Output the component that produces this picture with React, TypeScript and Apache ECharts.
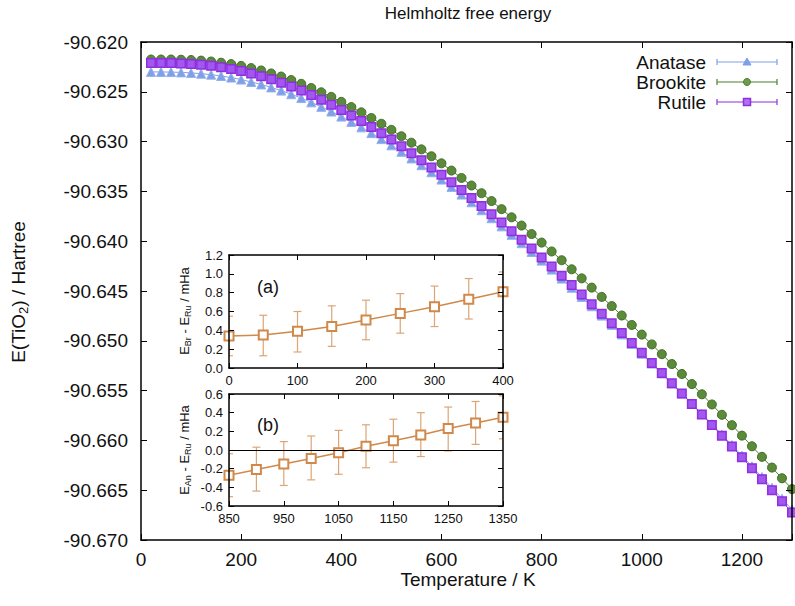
import { useEffect, useRef } from 'react';
import * as echarts from 'echarts';

// ---------- data ----------
const temperatures = [
  20, 40, 60, 80, 100, 120, 140, 160, 180, 200,
  220, 240, 260, 280, 300, 320, 340, 360, 380, 400,
  420, 440, 460, 480, 500, 520, 540, 560, 580, 600,
  620, 640, 660, 680, 700, 720, 740, 760, 780, 800,
  820, 840, 860, 880, 900, 920, 940, 960, 980, 1000,
  1020, 1040, 1060, 1080, 1100, 1120, 1140, 1160, 1180, 1200,
  1220, 1240, 1260, 1280, 1300,
];

const anatase = [
  -90.62300, -90.62301, -90.62302, -90.62305, -90.62310, -90.62318, -90.62328, -90.62341, -90.62357, -90.62377,
  -90.62401, -90.62426, -90.62456, -90.62488, -90.62524, -90.62563, -90.62606, -90.62651, -90.62698, -90.62749,
  -90.62802, -90.62857, -90.62915, -90.62975, -90.63037, -90.63102, -90.63169, -90.63237, -90.63308, -90.63381,
  -90.63455, -90.63532, -90.63609, -90.63689, -90.63769, -90.63851, -90.63936, -90.64020, -90.64108, -90.64195,
  -90.64285, -90.64375, -90.64467, -90.64559, -90.64653, -90.64747, -90.64840, -90.64936, -90.65032, -90.65130,
  -90.65229, -90.65328, -90.65428, -90.65529, -90.65630, -90.65734, -90.65837, -90.65942, -90.66047, -90.66153,
  -90.66260, -90.66368, -90.66476, -90.66585, -90.66694,
];

const brookite = [
  -90.62176, -90.62176, -90.62176, -90.62178, -90.62181, -90.62187, -90.62196, -90.62208, -90.62222, -90.62240,
  -90.62262, -90.62286, -90.62316, -90.62347, -90.62382, -90.62420, -90.62462, -90.62505, -90.62551, -90.62601,
  -90.62653, -90.62706, -90.62763, -90.62821, -90.62882, -90.62946, -90.63011, -90.63078, -90.63147, -90.63218,
  -90.63291, -90.63365, -90.63441, -90.63518, -90.63597, -90.63678, -90.63760, -90.63843, -90.63928, -90.64014,
  -90.64103, -90.64191, -90.64282, -90.64373, -90.64466, -90.64559, -90.64651, -90.64746, -90.64841, -90.64938,
  -90.65036, -90.65134, -90.65233, -90.65333, -90.65434, -90.65537, -90.65639, -90.65743, -90.65847, -90.65952,
  -90.66059, -90.66165, -90.66273, -90.66380, -90.66489,
];

const rutile = [
  -90.62210, -90.62211, -90.62212, -90.62215, -90.62220, -90.62228, -90.62239, -90.62253, -90.62270, -90.62291,
  -90.62316, -90.62343, -90.62375, -90.62409, -90.62447, -90.62488, -90.62533, -90.62580, -90.62629, -90.62682,
  -90.62737, -90.62794, -90.62854, -90.62916, -90.62980, -90.63047, -90.63116, -90.63186, -90.63259, -90.63333,
  -90.63409, -90.63487, -90.63566, -90.63647, -90.63729, -90.63813, -90.63899, -90.63985, -90.64074, -90.64163,
  -90.64255, -90.64347, -90.64441, -90.64536, -90.64632, -90.64728, -90.64824, -90.64922, -90.65021, -90.65121,
  -90.65222, -90.65324, -90.65426, -90.65530, -90.65634, -90.65740, -90.65846, -90.65953, -90.66061, -90.66169,
  -90.66279, -90.66389, -90.66500, -90.66611, -90.66723,
];

const seriesNames = ['Anatase', 'Brookite', 'Rutile'];

// inset (a): E_Br - E_Ru
const insetATemps = [0, 50, 100, 150, 200, 250, 300, 350, 400];
const insetAValues = [0.34, 0.35, 0.39, 0.44, 0.51, 0.58, 0.65, 0.73, 0.81];
const insetALow = [0.13, 0.13, 0.17, 0.23, 0.30, 0.37, 0.44, 0.52, 0.60];
const insetAHigh = [0.55, 0.56, 0.60, 0.66, 0.72, 0.79, 0.87, 0.95, 1.02];

// inset (b): E_An - E_Ru
const insetBTemps = [850, 900, 950, 1000, 1050, 1100, 1150, 1200, 1250, 1300, 1350];
const insetBValues = [-0.27, -0.21, -0.15, -0.09, -0.03, 0.04, 0.10, 0.16, 0.23, 0.29, 0.35];
const insetBLow = [-0.50, -0.44, -0.38, -0.32, -0.26, -0.19, -0.13, -0.07, -0.01, 0.06, 0.12];
const insetBHigh = [-0.04, 0.03, 0.09, 0.15, 0.21, 0.27, 0.33, 0.40, 0.46, 0.52, 0.58];

// ---------- styling ----------
const FONT = '"Liberation Sans", Arial, Helvetica, sans-serif';
const C_AN = '#7f9fe6';
const C_BR = '#4f7f2f';
const C_RU = '#8e2fe0';
const C_IN = '#d0894a';
const C_ERR = '#dba577';

function pairs(xs: number[], ys: number[]) {
  return xs.map((x, i) => [x, ys[i]]);
}
function triples(xs: number[], lo: number[], hi: number[]) {
  return xs.map((x, i) => [x, lo[i], hi[i]]);
}

function errorBars(xIdx: number, yIdx: number, data: number[][], color: string) {
  return {
    type: 'custom',
    xAxisIndex: xIdx,
    yAxisIndex: yIdx,
    data,
    clip: true,
    z: 1,
    encode: { x: 0, y: [1, 2] },
    silent: true,
    renderItem: (_p: any, api: any) => {
      const x = api.value(0);
      const lo = api.coord([x, api.value(1)]);
      const hi = api.coord([x, api.value(2)]);
      const w = 4;
      const style = { stroke: color, lineWidth: 1.2 };
      return {
        type: 'group',
        children: [
          { type: 'line', shape: { x1: lo[0], y1: lo[1], x2: hi[0], y2: hi[1] }, style },
          { type: 'line', shape: { x1: lo[0] - w, y1: lo[1], x2: lo[0] + w, y2: lo[1] }, style },
          { type: 'line', shape: { x1: hi[0] - w, y1: hi[1], x2: hi[0] + w, y2: hi[1] }, style },
        ],
      };
    },
  };
}

function axis(opts: any) {
  const { show, fontSize, margin, formatter, lineWidth, tickLen, ...rest } = opts;
  return {
    type: 'value',
    z: 5,
    axisLine: { show: true, onZero: false, lineStyle: { color: '#000', width: lineWidth } },
    axisTick: { show: true, inside: true, length: tickLen, lineStyle: { color: '#000', width: 1 } },
    axisLabel: {
      show,
      fontSize,
      margin,
      color: '#111',
      fontFamily: FONT,
      formatter,
    },
    splitLine: { show: false },
    ...rest,
  };
}

export default function App() {
  const ref = useRef<HTMLDivElement>(null);

  useEffect(() => {
    if (!ref.current) return;
    const chart = echarts.init(ref.current, undefined, { renderer: 'svg' });

    const mainX = (v: number) => (v > 1250 ? '' : String(v));
    const mainY = (v: number) => v.toFixed(3);
    const oneDec = (v: number) => (Math.abs(v) < 1e-9 ? '0.0' : v.toFixed(1));
    const intLbl = (v: number) => String(Math.round(v));

    const legendRows = seriesNames.map((name, i) => {
      const y = 62 + i * 20;
      const color = [C_AN, C_BR, C_RU][i];
      const marker =
        i === 0
          ? { type: 'polygon', shape: { points: [[747, y - 4], [743, y + 3], [751, y + 3]] }, style: { fill: color, stroke: color } }
          : i === 1
          ? { type: 'circle', shape: { cx: 747, cy: y, r: 3.5 }, style: { fill: '#6f9a50', stroke: C_BR, lineWidth: 1 } }
          : { type: 'rect', shape: { x: 743.5, y: y - 3.5, width: 7, height: 7 }, style: { fill: '#b070f0', stroke: C_RU, lineWidth: 1.5 } };
      return [
        { type: 'text', x: 706, y, style: { text: name, fontSize: 19, fontFamily: FONT, fill: '#111', align: 'right', verticalAlign: 'middle' } },
        { type: 'line', shape: { x1: 717, y1: y, x2: 777, y2: y }, style: { stroke: color, lineWidth: 1.2 } },
        { type: 'line', shape: { x1: 717, y1: y - 3, x2: 717, y2: y + 3 }, style: { stroke: color, lineWidth: 1.2 } },
        { type: 'line', shape: { x1: 777, y1: y - 3, x2: 777, y2: y + 3 }, style: { stroke: color, lineWidth: 1.2 } },
        marker,
      ];
    }).flat();

    const option: any = {
      animation: false,
      backgroundColor: '#fff',
      textStyle: { fontFamily: FONT },
      grid: [
        { left: 141, top: 42, width: 658, height: 498, show: false },
        { left: 229, top: 255, width: 274, height: 113, show: true, backgroundColor: '#fff', borderWidth: 0 },
        { left: 229, top: 394, width: 274, height: 112, show: true, backgroundColor: '#fff', borderWidth: 0 },
      ],
      xAxis: [
        axis({ gridIndex: 0, min: 0, max: 1300, interval: 200, show: true, fontSize: 19, margin: 10, formatter: mainX, lineWidth: 1.5, tickLen: 6 }),
        axis({ gridIndex: 0, position: 'top', min: 0, max: 1300, interval: 200, show: false, lineWidth: 1.5, tickLen: 6 }),
        axis({ gridIndex: 1, min: 0, max: 400, interval: 100, show: true, fontSize: 13, margin: 6, formatter: intLbl, lineWidth: 1.5, tickLen: 5 }),
        axis({ gridIndex: 1, position: 'top', min: 0, max: 400, interval: 100, show: false, lineWidth: 1.5, tickLen: 5 }),
        axis({ gridIndex: 2, min: 850, max: 1350, interval: 100, show: true, fontSize: 13, margin: 6, formatter: intLbl, lineWidth: 1.5, tickLen: 5 }),
        axis({ gridIndex: 2, position: 'top', min: 850, max: 1350, interval: 100, show: false, lineWidth: 1.5, tickLen: 5 }),
      ],
      yAxis: [
        axis({ gridIndex: 0, min: -90.67, max: -90.62, interval: 0.005, show: true, fontSize: 19, margin: 13, formatter: mainY, lineWidth: 1.5, tickLen: 6 }),
        axis({ gridIndex: 0, position: 'right', min: -90.67, max: -90.62, interval: 0.005, show: false, lineWidth: 1.5, tickLen: 6 }),
        axis({ gridIndex: 1, min: 0, max: 1.2, interval: 0.2, show: true, fontSize: 13, margin: 6, formatter: oneDec, lineWidth: 1.5, tickLen: 5 }),
        axis({ gridIndex: 1, position: 'right', min: 0, max: 1.2, interval: 0.2, show: false, lineWidth: 1.5, tickLen: 5 }),
        axis({ gridIndex: 2, min: -0.6, max: 0.6, interval: 0.2, show: true, fontSize: 13, margin: 6, formatter: oneDec, lineWidth: 1.5, tickLen: 5 }),
        axis({ gridIndex: 2, position: 'right', min: -0.6, max: 0.6, interval: 0.2, show: false, lineWidth: 1.5, tickLen: 5 }),
      ],
      series: [
        {
          name: seriesNames[0], type: 'line', xAxisIndex: 0, yAxisIndex: 0,
          data: pairs(temperatures, anatase), symbol: 'triangle', symbolSize: 9,
          lineStyle: { color: C_AN, width: 1 },
          itemStyle: { color: C_AN, borderColor: '#93b0ee', borderWidth: 1 },
          clip: true, silent: true, z: 2,
        },
        {
          name: seriesNames[1], type: 'line', xAxisIndex: 0, yAxisIndex: 0,
          data: pairs(temperatures, brookite), symbol: 'circle', symbolSize: 9,
          lineStyle: { color: C_BR, width: 1 },
          itemStyle: { color: '#5b8a3b', borderColor: '#3f6e23', borderWidth: 1 },
          clip: true, silent: true, z: 3,
        },
        {
          name: seriesNames[2], type: 'line', xAxisIndex: 0, yAxisIndex: 0,
          data: pairs(temperatures, rutile), symbol: 'rect', symbolSize: 8.5,
          lineStyle: { color: C_RU, width: 1 },
          itemStyle: { color: '#a257ee', borderColor: C_RU, borderWidth: 1.5 },
          clip: true, silent: true, z: 4,
        },
        errorBars(2, 2, triples(insetATemps, insetALow, insetAHigh), C_ERR),
        {
          type: 'line', xAxisIndex: 2, yAxisIndex: 2,
          data: pairs(insetATemps, insetAValues), symbol: 'emptyRect', symbolSize: 9,
          lineStyle: { color: C_IN, width: 1.5 },
          itemStyle: { color: C_IN, borderColor: C_IN, borderWidth: 1.5 },
          clip: true, silent: true, z: 3,
        },
        errorBars(4, 4, triples(insetBTemps, insetBLow, insetBHigh), C_ERR),
        {
          type: 'line', xAxisIndex: 4, yAxisIndex: 4,
          data: pairs(insetBTemps, insetBValues), symbol: 'emptyRect', symbolSize: 9,
          lineStyle: { color: C_IN, width: 1.5 },
          itemStyle: { color: C_IN, borderColor: C_IN, borderWidth: 1.5 },
          clip: true, silent: true, z: 3,
          markLine: {
            silent: true, symbol: 'none', label: { show: false },
            lineStyle: { color: '#000', width: 1.2, type: 'solid' },
            data: [{ yAxis: 0 }],
          },
        },
      ],
      graphic: [
        { type: 'text', x: 468, y: 13, style: { text: 'Helmholtz free energy', fontSize: 17, fontFamily: FONT, fill: '#111', align: 'center', verticalAlign: 'middle' } },
        { type: 'text', x: 468, y: 579, style: { text: 'Temperature / K', fontSize: 19, fontFamily: FONT, fill: '#111', align: 'center', verticalAlign: 'middle' } },
        {
          type: 'text', x: 18, y: 292, rotation: Math.PI / 2,
          style: {
            text: 'E(TiO{s|2}) / Hartree', fontSize: 19, fontFamily: FONT, fill: '#111', align: 'center', verticalAlign: 'middle',
            rich: { s: { fontSize: 13, fontFamily: FONT, fill: '#111', padding: [10, 0, 0, 0] } },
          },
        },
        {
          type: 'text', x: 184, y: 311, rotation: Math.PI / 2,
          style: {
            text: 'E{s|Br} - E{s|Ru} / mHa', fontSize: 13, fontFamily: FONT, fill: '#111', align: 'center', verticalAlign: 'middle',
            rich: { s: { fontSize: 9, fontFamily: FONT, fill: '#111', padding: [7, 0, 0, 0] } },
          },
        },
        {
          type: 'text', x: 184, y: 450, rotation: Math.PI / 2,
          style: {
            text: 'E{s|An} - E{s|Ru} / mHa', fontSize: 13, fontFamily: FONT, fill: '#111', align: 'center', verticalAlign: 'middle',
            rich: { s: { fontSize: 9, fontFamily: FONT, fill: '#111', padding: [7, 0, 0, 0] } },
          },
        },
        { type: 'text', x: 257, y: 287, z: 10, style: { text: '(a)', fontSize: 18, fontFamily: FONT, fill: '#111', align: 'left', verticalAlign: 'middle' } },
        { type: 'text', x: 257, y: 425, z: 10, style: { text: '(b)', fontSize: 18, fontFamily: FONT, fill: '#111', align: 'left', verticalAlign: 'middle' } },
        ...legendRows,
      ],
    };

    chart.setOption(option);
    return () => chart.dispose();
  }, []);

  return (
    <div
      ref={ref}
      style={{ position: 'fixed', left: 0, top: 0, width: 795, height: 606, background: '#fff' }}
    />
  );
}
